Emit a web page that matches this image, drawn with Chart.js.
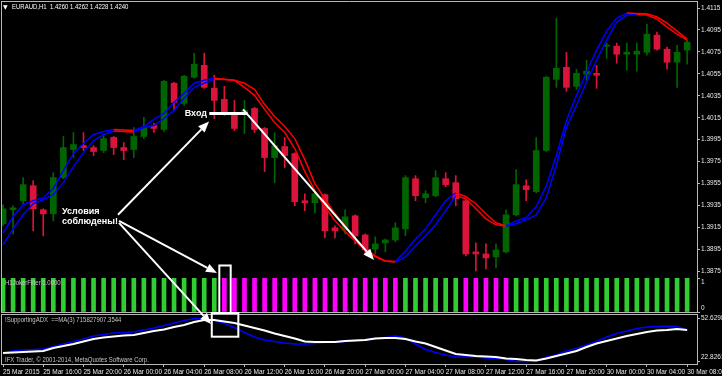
<!DOCTYPE html>
<html><head><meta charset="utf-8">
<script src="https://cdn.jsdelivr.net/npm/chart.js@4.4.1/dist/chart.umd.min.js"></script>
<style>
html,body{margin:0;padding:0;background:#000;width:722px;height:376px;overflow:hidden;}
#wrap{position:relative;width:722px;height:376px;background:#000;}
canvas{position:absolute;left:0;}
.t{position:absolute;white-space:pre;color:#fff;font-family:"Liberation Sans",Arial,sans-serif;font-size:8px;line-height:10px;transform-origin:0 50%;}
.n{transform:scaleX(0.75);}
.g{color:#c4c4c4;}
.b{font-weight:bold;font-size:9px;line-height:10px;}
</style></head><body>
<div id="wrap">
<canvas id="cMain" width="722" height="278" style="top:0px"></canvas>
<canvas id="cJoker" width="722" height="36" style="top:277px"></canvas>
<canvas id="cAdx" width="722" height="63" style="top:313px"></canvas>
<canvas id="cAnno" width="722" height="376" style="top:0px"></canvas>
<div class="t" style="left:3px;top:2px;font-family:'DejaVu Sans';font-size:6px;">▼</div>
<div class="t n" style="left:12px;top:2px;">EURAUD,H1  1.4260 1.4262 1.4228 1.4240</div>
<div class="t g n" style="left:5px;top:278px;">H1JokerFilter 1.0000</div>
<div class="t g n" style="left:5px;top:315px;">!SupportingADX  ==MA(3) 715827907.3544</div>
<div class="t g n" style="left:5px;top:355px;">IFX Trader, © 2001-2014, MetaQuotes Software Corp.</div>
<div class="t b" style="left:150px;width:57px;text-align:right;top:108px;">Вход</div>
<div class="t b" style="left:62px;top:206px;">Условия
соблюдены!</div>
</div>
<script>
// ---- price data (EURAUD H1) ----
const barOpen  = [1.39183,1.39311,1.39393,1.39530,1.39311,1.39274,1.39604,1.39860,1.39896,1.39878,
                  1.39851,1.39970,1.39878,1.39860,1.39979,1.40079,1.40043,1.40464,1.40281,1.40519,
                  1.40628,1.40418,1.40317,1.40189,1.40189,1.40235,1.40052,1.39787,1.39887,1.39823,
                  1.39393,1.39375,1.39448,1.39146,1.39128,1.39256,1.39082,1.38954,1.39009,1.39036,
                  1.39137,1.39594,1.39421,1.39439,1.39594,1.39558,1.39393,1.38927,1.38908,1.38881,
                  1.38927,1.39265,1.39530,1.39476,1.39851,1.40500,1.40610,1.40436,1.40546,1.40555,
                  1.40802,1.40802,1.40729,1.40729,1.40747,1.40903,1.40775,1.40656,1.40766];
const barHigh  = [1.39357,1.39347,1.39604,1.39576,1.39320,1.39649,1.39979,1.40015,1.40015,1.39896,
                  1.39988,1.39979,1.39924,1.40061,1.40153,1.40098,1.40491,1.40473,1.40537,1.40738,
                  1.40738,1.40537,1.40436,1.40308,1.40308,1.40244,1.40061,1.40015,1.39970,1.39832,
                  1.39457,1.39485,1.39457,1.39164,1.39311,1.39265,1.39091,1.39064,1.39045,1.39192,
                  1.39622,1.39622,1.39485,1.39668,1.39649,1.39622,1.39402,1.39009,1.39000,1.39000,
                  1.39311,1.39677,1.39585,1.39970,1.40528,1.41058,1.40747,1.40592,1.40674,1.40628,
                  1.40830,1.40830,1.40830,1.40830,1.41004,1.40930,1.40793,1.40811,1.40857];
const barLow   = [1.39164,1.39091,1.39366,1.39119,1.39073,1.39210,1.39594,1.39787,1.39851,1.39805,
                  1.39832,1.39814,1.39768,1.39787,1.39960,1.40015,1.40025,1.40217,1.40262,1.40510,
                  1.40418,1.40143,1.40171,1.40034,1.40006,1.40015,1.39659,1.39558,1.39695,1.39347,
                  1.39302,1.39283,1.39055,1.39055,1.39091,1.39000,1.38908,1.38908,1.38927,1.39018,
                  1.39073,1.39393,1.39375,1.39430,1.39521,1.39347,1.38890,1.38753,1.38771,1.38780,
                  1.38917,1.39256,1.39393,1.39466,1.39842,1.40427,1.40391,1.40409,1.40491,1.40418,
                  1.40692,1.40647,1.40583,1.40574,1.40720,1.40766,1.40592,1.40427,1.40638];
const barClose = [1.39320,1.39329,1.39540,1.39320,1.39274,1.39604,1.39878,1.39906,1.39878,1.39842,
                  1.39960,1.39878,1.39851,1.39979,1.40061,1.40052,1.40482,1.40290,1.40528,1.40638,
                  1.40427,1.40308,1.40198,1.40052,1.40217,1.40043,1.39787,1.39896,1.39805,1.39384,
                  1.39375,1.39457,1.39119,1.39119,1.39247,1.39073,1.38945,1.39000,1.39036,1.39146,
                  1.39604,1.39439,1.39457,1.39604,1.39540,1.39411,1.38908,1.38908,1.38872,1.38945,
                  1.39265,1.39540,1.39494,1.39851,1.40519,1.40601,1.40427,1.40555,1.40574,1.40537,
                  1.40811,1.40729,1.40747,1.40757,1.40912,1.40775,1.40656,1.40747,1.40839];
// trend moving averages
const maFast = [1.39100,1.39247,1.39357,1.39393,1.39421,1.39503,1.39668,1.39823,1.39915,1.39997,
                1.40025,1.40043,1.40038,1.40034,1.40070,1.40134,1.40189,1.40290,1.40372,1.40464,
                1.40491,1.40510,1.40500,1.40491,1.40427,1.40354,1.40226,1.40107,1.40015,1.39869,
                1.39659,1.39485,1.39338,1.39210,1.39110,1.39027,1.38945,1.38881,1.38844,1.38840,
                1.38936,1.39045,1.39137,1.39265,1.39393,1.39466,1.39430,1.39366,1.39274,1.39192,
                1.39164,1.39210,1.39238,1.39338,1.39530,1.39805,1.40125,1.40354,1.40564,1.40766,
                1.40940,1.41058,1.41104,1.41101,1.41097,1.41068,1.41013,1.40940,1.40866];
const maSlow = [1.38991,1.39137,1.39265,1.39366,1.39402,1.39448,1.39558,1.39704,1.39832,1.39942,
                1.39997,1.40029,1.40025,1.40020,1.40061,1.40079,1.40143,1.40217,1.40327,1.40427,
                1.40464,1.40500,1.40498,1.40491,1.40464,1.40409,1.40272,1.40162,1.40070,1.39960,
                1.39768,1.39549,1.39411,1.39274,1.39164,1.39036,1.38954,1.38890,1.38844,1.38835,
                1.38881,1.38981,1.39073,1.39174,1.39302,1.39439,1.39411,1.39320,1.39228,1.39174,
                1.39164,1.39183,1.39219,1.39265,1.39421,1.39713,1.40061,1.40262,1.40473,1.40674,
                1.40857,1.41022,1.41086,1.41090,1.41086,1.41049,1.40976,1.40912,1.40857];
// H1JokerFilter: 1 = buy (green), -1 = sell (magenta)
const jokerSignal = [1,1,1,1,1,1,1,1,1,1, 1,1,1,1,1,1,1,1,1,1, 1,1,-1,-1,-1,-1,-1,-1,-1,-1,
                     -1,-1,-1,-1,-1,-1,-1,-1,-1,-1, 1,1,1,1,1,1,-1,-1,-1,-1, -1,1,1,1,1,1,1,1,1,1,
                     1,1,1,1,1,1,1,1,1];
// !SupportingADX
const adxLine = [28.72,30.11,30.80,31.15,31.49,33.22,34.96,36.69,38.42,40.50,
                 41.54,42.58,42.93,43.27,44.66,46.05,47.78,49.51,51.24,52.63,
                 52.63,51.24,49.16,46.39,42.93,39.81,37.73,36.69,35.65,34.96,
                 34.96,35.30,36.00,36.34,36.69,37.38,37.73,38.77,39.46,40.50,
                 39.11,34.96,31.15,29.07,27.33,25.95,25.95,25.95,25.25,24.91,
                 24.22,22.83,22.83,23.18,25.95,27.33,30.11,31.84,34.26,36.69,
                 39.81,42.23,43.97,45.70,46.74,47.09,47.43,47.09,44.66];
const adxMA3  = [28.72,29.07,29.41,29.76,30.11,32.19,33.57,34.96,36.69,38.42,
                 39.46,40.15,40.85,41.19,42.58,43.97,45.01,46.74,48.12,50.20,
                 51.59,51.59,50.55,49.51,47.78,46.05,44.31,42.23,40.50,38.77,
                 36.69,36.34,36.34,36.34,37.04,37.38,37.73,38.77,39.11,39.11,
                 38.42,36.69,35.30,32.88,30.45,28.03,27.33,26.64,26.29,25.95,
                 24.91,24.56,23.87,23.53,24.91,26.64,28.37,30.11,32.88,35.30,
                 37.04,38.77,40.50,41.89,43.27,44.31,44.66,45.35,44.66];
// axis ticks
const priceTicks = [1.4115,1.4095,1.4075,1.4055,1.4035,1.4015,1.3995,1.3975,1.3955,1.3935,1.3915,1.3895,1.3875];
const jokerTicks = [1,0];
const adxTicks = [52.6298,22.8261];
const xTickIdx = [0,4,8,12,16,20,24,28,32,36,40,44,48,52,56,60,64,68];
const xTickLabels = ["25 Mar 2015","25 Mar 16:00","25 Mar 20:00","26 Mar 00:00","26 Mar 04:00","26 Mar 08:00",
  "26 Mar 12:00","26 Mar 16:00","26 Mar 20:00","27 Mar 00:00","27 Mar 04:00","27 Mar 08:00","27 Mar 12:00",
  "27 Mar 16:00","27 Mar 20:00","30 Mar 00:00","30 Mar 04:00","30 Mar 08:00"];
// annotations (bar index, value)
const entryLine = {bars:[20.5,24.3], price:1.40189};
const mainArrows = [
  {from:[11.43,1.39265], to:[20.48,1.40116]},
  {from:[11.53,1.39210], to:[21.27,1.38734]},
  {from:[23.86,1.40226], to:[36.88,1.38854]}
];
const adxArrow = {fromMain:[11.53,1.39192], toAdx:[20.68,48.82]};
const jokerBox = {bars:[21.5,22.63], topPrice:1.38803};
const adxBox = {bars:[20.75,23.39], bottom:40.02};

// ---- styling ----
const GRAY = '#b8b8b8', TXT = '#e8e8e8';
const FONT = '"Liberation Sans",Arial,sans-serif';
const FSIZE = 6.5;
const BULL = '#006400', BEAR = '#dc143c', UPC = '#0000ff', DNC = '#ff0000';
const X_MIN = -0.2, X_MAX = 68.98;
const idx = barOpen.map((_, i) => i);

const framePlugin = {
  id: 'frame',
  afterDraw(chart, args, o) {
    const a = chart.chartArea, c = chart.ctx;
    c.save(); c.strokeStyle = GRAY; c.lineWidth = 1; c.beginPath();
    if (o.top) { c.moveTo(a.left, a.top + 0.5); c.lineTo(a.right + 1, a.top + 0.5); }
    if (o.bottom) { c.moveTo(a.left, a.bottom + 0.5); c.lineTo(a.right + 1, a.bottom + 0.5); }
    c.moveTo(a.left + 0.5, a.top); c.lineTo(a.left + 0.5, a.bottom + 1);
    c.moveTo(a.right + 0.5, a.top); c.lineTo(a.right + 0.5, a.bottom + 1);
    c.stroke(); c.restore();
  }
};
Chart.register(framePlugin);

const baseOpts = (pad, frame) => ({
  responsive: false, animation: false, events: [],
  layout: { padding: pad },
  plugins: { legend: { display: false }, tooltip: { enabled: false }, frame: frame },
});
const xHidden = { type: 'linear', min: X_MIN, max: X_MAX, display: false, offset: false, grid: { offset: false } };
const yRight = (min, max, ticks, cb) => ({
  type: 'linear', position: 'right', min: min, max: max,
  afterBuildTicks: s => { s.ticks = ticks.map(v => ({ value: v })); },
  afterFit: s => { s.width = 25; s.paddingTop = 0; s.paddingBottom = 0; },
  ticks: { callback: cb, color: TXT, font: { family: FONT, size: FSIZE, lineHeight: 1.2 }, padding: 1, autoSkip: false },
  grid: { drawOnChartArea: false, drawTicks: true, tickLength: 3, color: GRAY },
  border: { display: false }
});
const trendSeg = { borderColor: c => (c.p1.parsed.y < c.p0.parsed.y ? DNC : UPC) };

// ---- main price chart ----
const mainChart = new Chart(document.getElementById('cMain'), {
  type: 'bar',
  data: { datasets: [
    { type: 'line', data: idx.map(i => ({ x: i, y: maFast[i] })), borderColor: UPC, borderWidth: 1.5,
      pointRadius: 0, segment: trendSeg, order: 0 },
    { type: 'line', data: idx.map(i => ({ x: i, y: maSlow[i] })), borderColor: UPC, borderWidth: 1.5,
      pointRadius: 0, segment: trendSeg, order: 1 },
    { data: idx.map(i => ({ x: i, y: [barOpen[i], barClose[i]] })),
      backgroundColor: idx.map(i => barClose[i] >= barOpen[i] ? BULL : BEAR),
      barThickness: 6, minBarLength: 1, grouped: false, order: 2 },
    { data: idx.map(i => ({ x: i, y: [barLow[i], barHigh[i]] })),
      backgroundColor: idx.map(i => barClose[i] >= barOpen[i] ? BULL : BEAR),
      barThickness: 1, grouped: false, order: 3 }
  ]},
  options: Object.assign(baseOpts({ left: 1, top: 1, right: 0, bottom: 0 }, { top: true, bottom: true }), {
    scales: { x: xHidden, y: yRight(1.38689, 1.41214, priceTicks, v => v.toFixed(4)) }
  })
});

// ---- joker filter ----
const jokerChart = new Chart(document.getElementById('cJoker'), {
  type: 'bar',
  data: { datasets: [
    { data: idx.map(i => ({ x: i, y: Math.abs(jokerSignal[i]) })),
      backgroundColor: idx.map(i => jokerSignal[i] > 0 ? '#32cd32' : '#ff00ff'),
      barThickness: 4, grouped: false }
  ]},
  options: Object.assign(baseOpts({ left: 1, top: 1, right: 0, bottom: 1 }, { top: false, bottom: true }), {
    scales: { x: xHidden, y: yRight(0, 1, jokerTicks, (v, i) => i === 0 ? ['', String(v)] : [String(v), '']) }
  })
});

// ---- supporting ADX ----
const adxChart = new Chart(document.getElementById('cAdx'), {
  type: 'line',
  data: { datasets: [
    { data: idx.map(i => ({ x: i, y: adxMA3[i] })), borderColor: '#ffffff', borderWidth: 2.2, pointRadius: 0, order: 0 },
    { data: idx.map(i => ({ x: i, y: adxLine[i] })), borderColor: '#0000ff', borderWidth: 1.5, pointRadius: 0, order: 1 }
  ]},
  options: Object.assign(baseOpts({ left: 1, top: 1, right: 0, bottom: 0 }, { top: true, bottom: true }), {
    scales: {
      x: { type: 'linear', min: X_MIN, max: X_MAX, position: 'bottom', offset: false,
        afterBuildTicks: s => { s.ticks = xTickIdx.map(v => ({ value: v })); },
        afterFit: s => { s.height = 12; s.paddingLeft = 0; s.paddingRight = 0; },
        ticks: { callback: (v, i) => xTickLabels[i], align: 'start', autoSkip: false, maxRotation: 0,
          color: TXT, font: { family: FONT, size: FSIZE }, padding: 1 },
        grid: { drawOnChartArea: false, drawTicks: true, tickLength: 3, color: GRAY },
        border: { display: false } },
      y: yRight(21.10, 55.75, adxTicks, (v, i) => i === adxTicks.length - 1 ? [v.toFixed(4), ''] : v.toFixed(4))
    }
  })
});

// ---- annotations overlay ----
const TOP = { main: 0, joker: 277, adx: 313 };
const P = (ch, off, xv, yv) => [ch.scales.x.getPixelForValue(xv), off + ch.scales.y.getPixelForValue(yv)];
const ctx = document.getElementById('cAnno').getContext('2d');
ctx.strokeStyle = '#ffffff'; ctx.fillStyle = '#ffffff';
function arrow(p0, p1) {
  const ang = Math.atan2(p1[1] - p0[1], p1[0] - p0[0]), L = 11, W = 4.5;
  const bx = p1[0] - L * Math.cos(ang), by = p1[1] - L * Math.sin(ang);
  ctx.lineWidth = 2; ctx.beginPath(); ctx.moveTo(p0[0], p0[1]); ctx.lineTo(bx, by); ctx.stroke();
  ctx.beginPath(); ctx.moveTo(p1[0], p1[1]);
  ctx.lineTo(bx + W * Math.sin(ang), by - W * Math.cos(ang));
  ctx.lineTo(bx - W * Math.sin(ang), by + W * Math.cos(ang));
  ctx.closePath(); ctx.fill();
}
{
  const a = P(mainChart, TOP.main, entryLine.bars[0], entryLine.price);
  const b = P(mainChart, TOP.main, entryLine.bars[1], entryLine.price);
  ctx.lineWidth = 3; ctx.beginPath(); ctx.moveTo(a[0], a[1]); ctx.lineTo(b[0], b[1]); ctx.stroke();
}
mainArrows.forEach(ar => arrow(P(mainChart, TOP.main, ar.from[0], ar.from[1]), P(mainChart, TOP.main, ar.to[0], ar.to[1])));
arrow(P(mainChart, TOP.main, adxArrow.fromMain[0], adxArrow.fromMain[1]), P(adxChart, TOP.adx, adxArrow.toAdx[0], adxArrow.toAdx[1]));
{
  ctx.lineWidth = 2;
  const tl = P(mainChart, TOP.main, jokerBox.bars[0], jokerBox.topPrice);
  const br = P(jokerChart, TOP.joker, jokerBox.bars[1], 0);
  ctx.strokeRect(tl[0], tl[1], br[0] - tl[0], br[1] - tl[1] + 1);
  const tl2 = [mainChart.scales.x.getPixelForValue(adxBox.bars[0]), br[1] + 1];
  const br2 = P(adxChart, TOP.adx, adxBox.bars[1], adxBox.bottom);
  ctx.strokeRect(tl2[0], tl2[1], br2[0] - tl2[0], br2[1] - tl2[1]);
}
</script>
</body></html>
